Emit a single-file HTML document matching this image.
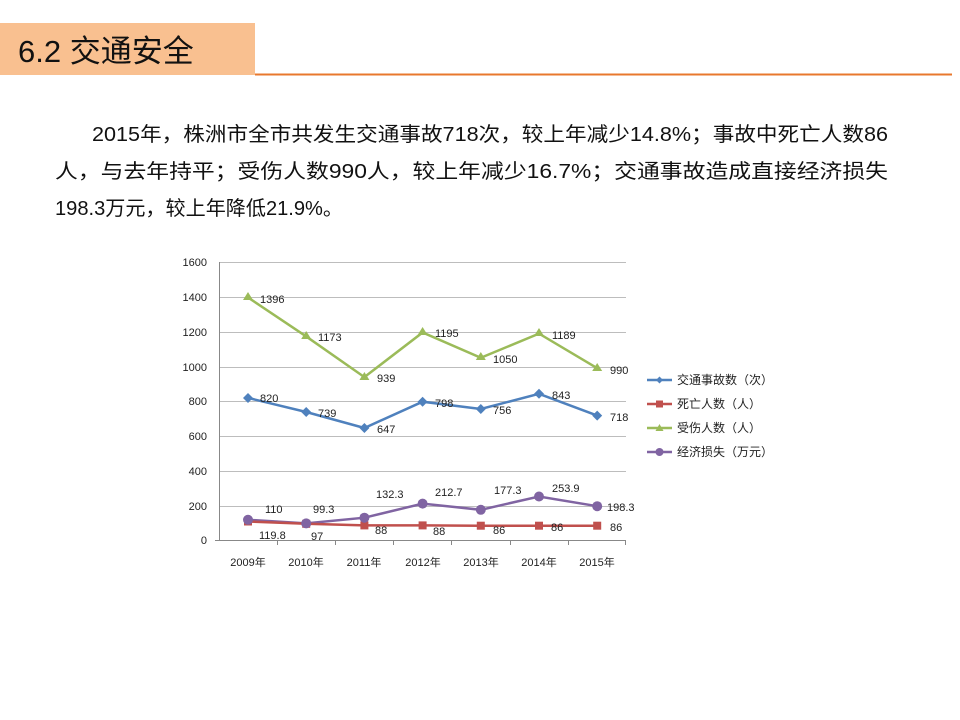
<!DOCTYPE html>
<html><head><meta charset="utf-8"><style>
body{margin:0;width:960px;height:720px;background:#fff;overflow:hidden}
svg{display:block}
text{font-family:"Liberation Sans","Noto Sans CJK SC",sans-serif}
</style></head><body>
<svg width="960" height="720" viewBox="0 0 960 720">
<rect x="0" y="23" width="255" height="52" fill="#f9c090"/>
<line x1="255" y1="74.5" x2="952" y2="74.5" stroke="#e8782e" stroke-width="2"/>
<text x="18" y="62" font-size="31" fill="#111">6.2 交通安全</text>
<g font-size="20" fill="#111">
<text x="92" y="141" textLength="796" lengthAdjust="spacingAndGlyphs">2015年，株洲市全市共发生交通事故718次，较上年减少14.8%；事故中死亡人数86</text>
<text x="55" y="178" textLength="833" lengthAdjust="spacingAndGlyphs">人，与去年持平；受伤人数990人，较上年减少16.7%；交通事故造成直接经济损失</text>
<text x="55" y="215" textLength="288" lengthAdjust="spacingAndGlyphs">198.3万元，较上年降低21.9%。</text>
</g>
<g stroke="#bdbdbd" stroke-width="1">
<line x1="219" y1="262.5" x2="626" y2="262.5"/>
<line x1="219" y1="297.5" x2="626" y2="297.5"/>
<line x1="219" y1="332.5" x2="626" y2="332.5"/>
<line x1="219" y1="367.5" x2="626" y2="367.5"/>
<line x1="219" y1="401.5" x2="626" y2="401.5"/>
<line x1="219" y1="436.5" x2="626" y2="436.5"/>
<line x1="219" y1="471.5" x2="626" y2="471.5"/>
<line x1="219" y1="506.5" x2="626" y2="506.5"/>
</g>
<g stroke="#888" stroke-width="1">
<line x1="219.5" y1="262" x2="219.5" y2="541"/>
<line x1="215" y1="540.5" x2="626" y2="540.5"/>
<line x1="277.5" y1="540" x2="277.5" y2="545"/><line x1="335.5" y1="540" x2="335.5" y2="545"/>
<line x1="393.5" y1="540" x2="393.5" y2="545"/><line x1="451.5" y1="540" x2="451.5" y2="545"/>
<line x1="510.5" y1="540" x2="510.5" y2="545"/><line x1="568.5" y1="540" x2="568.5" y2="545"/>
<line x1="625.5" y1="540" x2="625.5" y2="545"/>
</g>
<g font-size="11" fill="#222" text-anchor="end">
<text x="207" y="266">1600</text><text x="207" y="301">1400</text><text x="207" y="336">1200</text>
<text x="207" y="371">1000</text><text x="207" y="405">800</text><text x="207" y="440">600</text>
<text x="207" y="475">400</text><text x="207" y="510">200</text><text x="207" y="544">0</text>
</g>
<g font-size="11" fill="#222" text-anchor="middle">
<text x="248" y="566">2009年</text><text x="306" y="566">2010年</text><text x="364" y="566">2011年</text>
<text x="423" y="566">2012年</text><text x="481" y="566">2013年</text><text x="539" y="566">2014年</text><text x="597" y="566">2015年</text>
</g>
<polyline fill="none" stroke="#9bbb59" stroke-width="2.5" points="248,297.5 306.2,336.4 364.4,377.1 422.6,332.5 480.8,357.8 539,333.6 597.2,368.2"/>
<g fill="#9bbb59">
<path d="M248,292 l5,8 h-10z"/><path d="M306.2,331 l5,8 h-10z"/><path d="M364.4,372 l5,8 h-10z"/><path d="M422.6,327 l5,8 h-10z"/><path d="M480.8,352 l5,8 h-10z"/><path d="M539,328 l5,8 h-10z"/><path d="M597.2,363 l5,8 h-10z"/>
</g>
<polyline fill="none" stroke="#4f81bd" stroke-width="2.5" points="248,397.9 306.2,412 364.4,428 422.6,401.7 480.8,409 539,393.8 597.2,415.6"/>
<g fill="#4f81bd">
<path d="M248,393 l5,5 l-5,5 l-5,-5z"/><path d="M306.2,407 l5,5 l-5,5 l-5,-5z"/><path d="M364.4,423 l5,5 l-5,5 l-5,-5z"/><path d="M422.6,396.7 l5,5 l-5,5 l-5,-5z"/><path d="M480.8,404 l5,5 l-5,5 l-5,-5z"/><path d="M539,388.8 l5,5 l-5,5 l-5,-5z"/><path d="M597.2,410.6 l5,5 l-5,5 l-5,-5z"/>
</g>
<polyline fill="none" stroke="#8064a2" stroke-width="2.5" points="248,519.8 306.2,523.4 364.4,517.7 422.6,503.6 480.8,509.8 539,496.5 597.2,506.2"/>
<polyline fill="none" stroke="#c0504d" stroke-width="2.5" points="248,521.5 306.2,523.8 364.4,525.4 422.6,525.4 480.8,525.7 539,525.7 597.2,525.7"/>
<g fill="#c0504d">
<rect x="244" y="517.5" width="8" height="8"/><rect x="302.2" y="519.8" width="8" height="8"/><rect x="360.4" y="521.4" width="8" height="8"/><rect x="418.6" y="521.4" width="8" height="8"/><rect x="476.8" y="521.7" width="8" height="8"/><rect x="535" y="521.7" width="8" height="8"/><rect x="593.2" y="521.7" width="8" height="8"/>
</g>
<g fill="#8064a2">
<circle cx="248" cy="519.8" r="5"/><circle cx="306.2" cy="523.4" r="5"/><circle cx="364.4" cy="517.7" r="5"/><circle cx="422.6" cy="503.6" r="5"/><circle cx="480.8" cy="509.8" r="5"/><circle cx="539" cy="496.5" r="5"/><circle cx="597.2" cy="506.2" r="5"/>
</g>
<g font-size="11" fill="#222">
<text x="260" y="303">1396</text><text x="318" y="341">1173</text><text x="377" y="382">939</text><text x="435" y="337">1195</text><text x="493" y="363">1050</text><text x="552" y="339">1189</text><text x="610" y="374">990</text>
<text x="260" y="402">820</text><text x="318" y="417">739</text><text x="377" y="433">647</text><text x="435" y="407">798</text><text x="493" y="414">756</text><text x="552" y="399">843</text><text x="610" y="421">718</text>
<text x="265" y="513">110</text><text x="313" y="513">99.3</text><text x="376" y="498">132.3</text><text x="435" y="496">212.7</text><text x="494" y="494">177.3</text><text x="552" y="492">253.9</text><text x="607" y="511">198.3</text>
<text x="259" y="539">119.8</text><text x="311" y="540">97</text><text x="375" y="534">88</text><text x="433" y="535">88</text><text x="493" y="534">86</text><text x="551" y="531">86</text><text x="610" y="531">86</text>
</g>
<g stroke-width="2.5">
<line x1="647" y1="380" x2="672" y2="380" stroke="#4f81bd"/>
<line x1="647" y1="404" x2="672" y2="404" stroke="#c0504d"/>
<line x1="647" y1="428" x2="672" y2="428" stroke="#9bbb59"/>
<line x1="647" y1="452" x2="672" y2="452" stroke="#8064a2"/>
</g>
<path d="M659.5,376.5 l3.5,3.5 l-3.5,3.5 l-3.5,-3.5z" fill="#4f81bd"/>
<rect x="656" y="400.5" width="7" height="7" fill="#c0504d"/>
<path d="M659.5,424 l4,7 h-8z" fill="#9bbb59"/>
<circle cx="659.5" cy="452" r="4" fill="#8064a2"/>
<g font-size="12" fill="#222">
<text x="677" y="384">交通事故数（次）</text>
<text x="677" y="408">死亡人数（人）</text>
<text x="677" y="432">受伤人数（人）</text>
<text x="677" y="456">经济损失（万元）</text>
</g>
</svg>
</body></html>
